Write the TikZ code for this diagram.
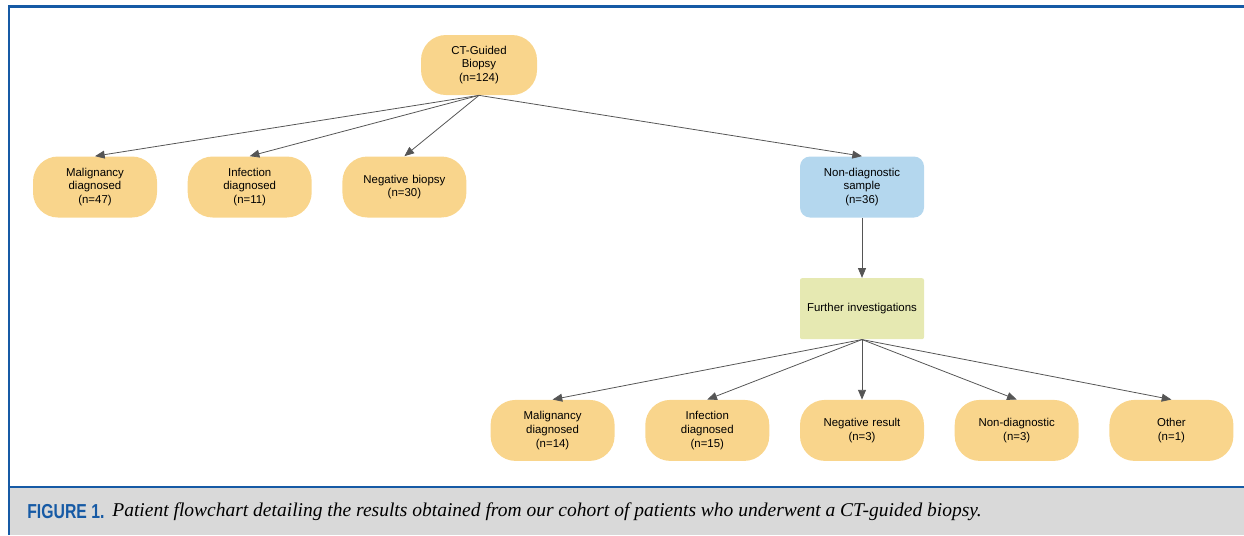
\documentclass[tikz,border=0pt]{standalone}
\usepackage{fontspec}
\setmainfont{Liberation Sans}
\newfontfamily\capserif{Liberation Serif}
\usepackage{tikz}
\usetikzlibrary{arrows.meta, positioning}

\definecolor{pillorange}{RGB}{249,213,140}
\definecolor{boxblue}{RGB}{180,215,238}
\definecolor{boxgreen}{RGB}{230,233,178}
\definecolor{edgegray}{RGB}{85,85,85}
\definecolor{frameblue}{RGB}{22,90,165}
\definecolor{capgray}{RGB}{217,217,217}

\begin{document}
\begin{tikzpicture}[node distance=1.2cm and 0.6cm]

        % Define styles
        \tikzstyle{pill} = [rectangle, fill=pillorange, rounded corners=0.5cm, text width=2.3cm, align=center, minimum width=2.48cm, minimum height=1.22cm, inner sep=0pt, font=\fontsize{6.5}{7.8}\selectfont]
        \tikzstyle{sample} = [pill, fill=boxblue, rounded corners=0.2cm]
        \tikzstyle{further} = [pill, fill=boxgreen, rounded corners=0.04cm]
        \tikzstyle{line} = [draw=edgegray, line width=0.45pt, -{Triangle[length=5.5pt, width=4.5pt]}]

        % Frame and caption band
        \useasboundingbox (0,0) rectangle (24.88,-10.7);
        \fill [capgray] (0.18,-9.74) rectangle (24.88,-10.7);
        \draw [frameblue, line width=1.6pt] (0.18,-10.7) -- (0.18,-0.13) -- (24.88,-0.13);
        \draw [frameblue, line width=1.3pt] (0.18,-9.74) -- (24.88,-9.74);
        \node [anchor=west, inner sep=0pt, text=frameblue] (figlabel) at (0.54,-10.24) {\scalebox{0.78}[1]{\fontsize{11.5}{13}\selectfont\bfseries FIGURE 1.}};
        \node [anchor=west, inner sep=0pt, font=\capserif\fontsize{11.1}{13}\selectfont\itshape] (figcaption) at (2.24,-10.24) {Patient flowchart detailing the results obtained from our cohort of patients who underwent a CT-guided biopsy.};

        % Place nodes
        \node [pill, minimum width=2.32cm, minimum height=1.2cm] (biopsy) at (9.58,-1.3) {CT-Guided\\Biopsy\\(n=124)};
        \node [pill] (malig) at (1.9,-3.74) {Malignancy\\diagnosed\\(n=47)};
        \node [pill, right=of malig] (infect) {Infection\\diagnosed\\(n=11)};
        \node [pill, right=of infect] (negbiopsy) {Negative biopsy\\(n=30)};
        \node [sample] (nondiag) at (17.24,-3.74) {Non-diagnostic\\sample\\(n=36)};
        \node [further, below=of nondiag] (investig) {Further investigations};

        % Outcomes of further investigations
        \node [pill, below=of investig] (negresult) {Negative result\\(n=3)};
        \node [pill, left=of negresult] (infectb) {Infection\\diagnosed\\(n=15)};
        \node [pill, left=of infectb] (maligb) {Malignancy\\diagnosed\\(n=14)};
        \node [pill, right=of negresult] (nondiagb) {Non-diagnostic\\(n=3)};
        \node [pill, right=of nondiagb] (other) {Other\\(n=1)};

        % Draw edges
        \path [line] (biopsy.south) -- (malig.north);
        \path [line] (biopsy.south) -- (infect.north);
        \path [line] (biopsy.south) -- (negbiopsy.north);
        \path [line] (biopsy.south) -- (nondiag.north);
        \path [line] (nondiag) -- (investig);
        \path [line] (investig.south) -- (maligb.north);
        \path [line] (investig.south) -- (infectb.north);
        \path [line] (investig.south) -- (negresult.north);
        \path [line] (investig.south) -- (nondiagb.north);
        \path [line] (investig.south) -- (other.north);

    \end{tikzpicture}
\end{document}
